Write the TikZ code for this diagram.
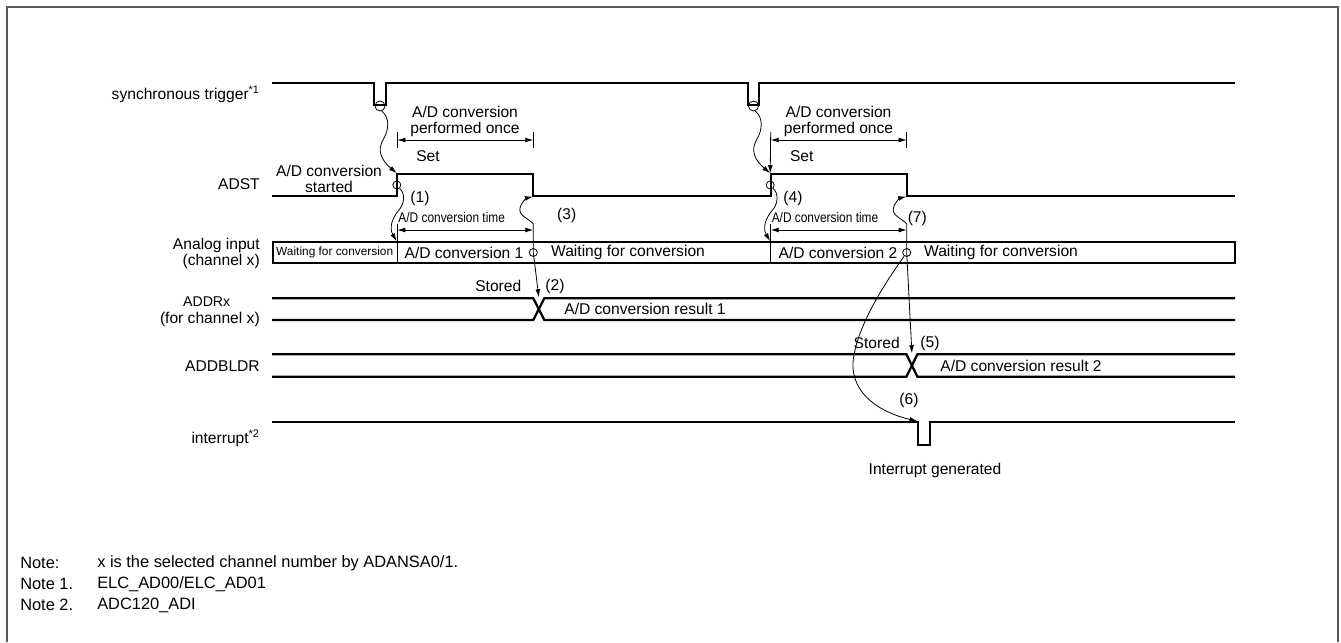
\documentclass[tikz,border=0pt]{standalone}
\usepackage{fontspec}
\usepackage{graphicx}
\setmainfont{Liberation Sans}
\usetikzlibrary{arrows.meta}
\newcommand\mainf{\fontsize{11.7}{12.5}\selectfont}
\newcommand\notef{\fontsize{12.3}{13}\selectfont}
\newcommand\smallf{\fontsize{8.9}{10}\selectfont}
\newcommand\addrf{\fontsize{10.6}{11}\selectfont}
\newcommand\condf[1]{\scalebox{0.85}[1]{\fontsize{10.5}{12}\selectfont #1}}
\begin{document}
\begin{tikzpicture}[x=0.75pt,y=-0.75pt,
  sig/.style={line width=1.7pt, line join=miter},
  thinl/.style={line width=0.6pt},
  arr/.style={thinl,-{Latex[length=6pt,width=3.6pt]}},
  darr/.style={thinl,{Latex[length=6pt,width=3.6pt]}-{Latex[length=6pt,width=3.6pt]}},
  txt/.style={inner sep=0pt, font=\mainf},
  lbl/.style={txt, anchor=east},
  notetxt/.style={inner sep=0pt, font=\notef, anchor=west},
  circ/.style={circle, draw, line width=0.6pt, inner sep=0pt, minimum size=#1},
]
\useasboundingbox (0,0) rectangle (1341,642);
% frame
\draw[line width=1.5pt, color=black!65] (7,642) -- (7,7) -- (1338,7) -- (1338,642);

% ---- signal labels
\node[lbl] (lsync) at (260,94) {synchronous trigger\textsuperscript{*1}};
\node[lbl] (ladst) at (260,184) {ADST};
\node[lbl, align=right] (lana) at (260,253.3) {Analog input\\(channel x)};
\node[txt, font=\addrf] (laddr) at (206.7,301.7) {ADDRx};
\node[lbl] (laddr2) at (260,319.3) {(for channel x)};
\node[lbl] (laddb) at (260,365.7) {ADDBLDR};
\node[lbl] (lint) at (260,438.3) {interrupt\textsuperscript{*2}};

% ---- waveforms
\draw[sig] (272,83) -| (374,105) -| (386,83) -| (747.7,105) -| (759.3,83) -- (1235,83);
\draw[sig] (272,196) -| (397.3,174) -| (533.3,196) -| (770.7,174) -| (906.7,196) -- (1235,196);
\draw[sig] (272.7,241.7) rectangle (1235,263.3);
\draw[sig] (272,298.3) -- (533.3,298.3) -- (544.3,320) -- (1235,320);
\draw[sig] (272,320) -- (533.3,320) -- (544.3,298.3) -- (1235,298.3);
\draw[sig] (272,354.3) -- (906.4,354.3) -- (917.4,376.7) -- (1235,376.7);
\draw[sig] (272,376.7) -- (906.4,376.7) -- (917.4,354.3) -- (1235,354.3);
\draw[sig] (272,421.7) -| (918,445) -| (930,421.7) -- (1235,421.7);

% ---- key points
\coordinate (adstR1) at (396.8,173.2);
\coordinate (adstR2) at (770.2,173.2);
\coordinate (adstF1) at (532.9,196.6);
\coordinate (adstF2) at (906.3,196.6);
\coordinate (boxL1) at (396.6,241.2);
\coordinate (boxL2) at (770.0,241.2);
\coordinate (x1) at (538.8,297.3);
\coordinate (x2) at (911.9,353.3);
\coordinate (intp) at (917.5,421.2);
\coordinate (tkA) at (397.3,224);
\coordinate (tkB) at (533.3,224);
\coordinate (tkC) at (770.7,224);
\coordinate (tkD) at (906.7,224);
\coordinate (tkAb) at (397.3,263.3);
\coordinate (tkCb) at (770.7,263.3);
\coordinate (p1a) at (397.3,132);
\coordinate (p1b) at (397.3,148);
\coordinate (p2a) at (533.3,132);
\coordinate (p2b) at (533.3,148);
\coordinate (p3a) at (770.7,132);
\coordinate (p4a) at (906.7,132);
\coordinate (p4b) at (906.7,148);

% ---- circles
\node[circ=7.5pt] (cs1) at (380,106) {};
\node[circ=7.5pt] (cs2) at (753.5,106) {};
\node[circ=6pt] (ca1) at (396.8,185) {};
\node[circ=6pt] (ca2) at (770.2,185) {};
\node[circ=6pt] (cb1) at (533.3,252.5) {};
\node[circ=6pt] (cb2) at (906.7,252.5) {};

% ---- "performed once" dimensions
\draw[thinl] (p1a) -- (p1b);
\draw[thinl] (p2a) -- (p2b);
\draw[darr] (397.3,140) -- (533.3,140);
\draw[arr] (p3a) -- (adstR2);
\draw[thinl] (p4a) -- (p4b);
\draw[darr] (770.7,140) -- (906.7,140);

% ---- conversion time dimensions and separators
\draw[thinl] (tkA) -- (tkAb);
\draw[thinl] (tkC) -- (tkCb);
\draw[darr] (397.3,230) -- (533.3,230);
\draw[darr] (770.7,230) -- (906.7,230);

% ---- wavy arrows
\draw[arr] (cs1.-70) .. controls (390,118) and (389,130) .. (383,140) .. controls (377,150) and (381,160) .. (adstR1);
\draw[arr] (cs2.-70) .. controls (763.5,118) and (762.5,130) .. (756.5,140) .. controls (750.5,150) and (754.5,160) .. (adstR2);
\draw[arr] (ca1.-50) .. controls (405,193) and (405,203) .. (399,210) .. controls (392,218) and (389,228) .. (boxL1);
\draw[arr] (ca2.-50) .. controls (778.5,193) and (778.5,203) .. (772.5,210) .. controls (765.5,218) and (762.5,228) .. (boxL2);
\draw[arr] (tkB) .. controls (530,219) and (518,216) .. (520,208) .. controls (522,201) and (527,198) .. (adstF1);
\draw[arr] (tkD) .. controls (903.4,219) and (891.4,216) .. (893.4,208) .. controls (895.4,201) and (900.4,198) .. (adstF2);
\draw[arr] (tkB) -- (cb1.center) -- (x1);
\draw[arr] (tkD) -- (cb2.center) -- (x2);
\draw[arr] (cb2.-125) .. controls (880,290) and (856,330) .. (853,362) .. controls (851,395) and (882,413) .. (intp);

% ---- texts
\node[txt, align=center] (tstart) at (329,179) {A/D conversion\\started};
\node[txt, align=center] (tonce1) at (465,121.3) {A/D conversion\\performed once};
\node[txt, align=center] (tonce2) at (838.5,121.3) {A/D conversion\\performed once};
\node[txt] (tset1) at (428,155.7) {Set};
\node[txt] (tset2) at (801.7,155.7) {Set};
\node[txt] (n1) at (420,198.3) {(1)};
\node[txt] (n4) at (793,198.3) {(4)};
\node[txt] (n3) at (566.7,215) {(3)};
\node[txt] (n7) at (917.3,218.3) {(7)};
\node[txt] (n2) at (555,286) {(2)};
\node[txt] (st1) at (498.3,286) {Stored};
\node[txt] (st2) at (876.7,343.3) {Stored};
\node[txt] (n5) at (930,343.3) {(5)};
\node[txt] (n6) at (909,400) {(6)};
\node[txt] (time1) at (451.7,217.3) {\condf{A/D conversion time}};
\node[txt] (time2) at (825,217.3) {\condf{A/D conversion time}};
\node[txt, font=\smallf] (w0) at (334.7,252.5) {Waiting for conversion};
\node[txt] (cv1) at (464,252.5) {A/D conversion 1};
\node[txt] (w1) at (628,252.5) {Waiting for conversion};
\node[txt] (cv2) at (838,252.5) {A/D conversion 2};
\node[txt] (w2) at (1001,252.5) {Waiting for conversion};
\node[txt] (r1) at (645,309) {A/D conversion result 1};
\node[txt] (r2) at (1021,365.5) {A/D conversion result 2};
\node[txt] (ig) at (935,470) {Interrupt generated};

% ---- notes
\node[notetxt] (nt0) at (20,563) {Note:};
\node[notetxt] (nt0t) at (97,563) {x is the selected channel number by ADANSA0/1.};
\node[notetxt] (nt1) at (20,584) {Note 1.};
\node[notetxt] (nt1t) at (97,584) {ELC\_AD00/ELC\_AD01};
\node[notetxt] (nt2) at (20,605) {Note 2.};
\node[notetxt] (nt2t) at (97,605) {ADC120\_ADI};
\end{tikzpicture}
\end{document}
